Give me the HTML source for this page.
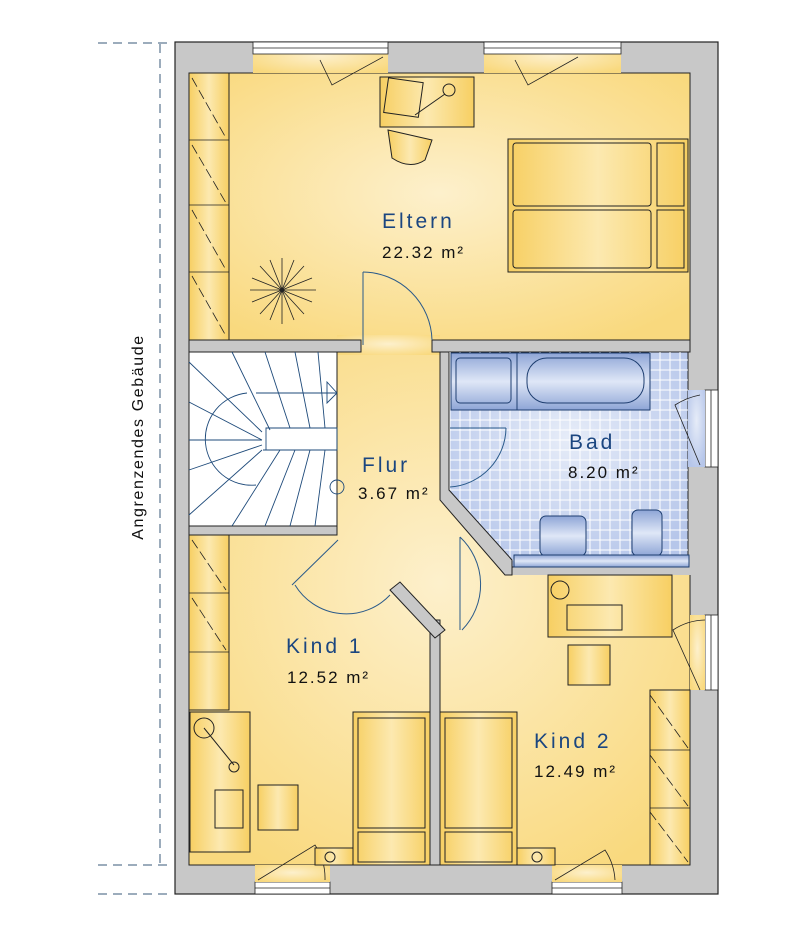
<!DOCTYPE html>
<html><head><meta charset="utf-8"><style>
html,body{margin:0;padding:0;background:#fff;width:800px;height:942px;overflow:hidden}
text{font-family:"Liberation Sans",sans-serif}
</style></head><body>
<svg width="800" height="942" viewBox="0 0 800 942" xmlns="http://www.w3.org/2000/svg">
<defs>
<radialGradient id="y" cx="50%" cy="45%" r="65%"><stop offset="0" stop-color="#fdf0cc"/><stop offset="1" stop-color="#f9d97e"/></radialGradient>
<linearGradient id="f" x1="0" y1="0" x2="1" y2="0"><stop offset="0" stop-color="#f7cf62"/><stop offset=".5" stop-color="#fce9b0"/><stop offset="1" stop-color="#f7cf62"/></linearGradient>
<radialGradient id="b" cx="50%" cy="40%" r="65%"><stop offset="0" stop-color="#e6ecf8"/><stop offset="1" stop-color="#b6c6ea"/></radialGradient>
<linearGradient id="bt" x1="0" y1="0" x2="0" y2="1"><stop offset="0" stop-color="#8ea5d6"/><stop offset=".5" stop-color="#dfe7f7"/><stop offset="1" stop-color="#8ea5d6"/></linearGradient>
<pattern id="tile" width="10" height="10" patternUnits="userSpaceOnUse"><rect width="10" height="10" fill="none" stroke="#fff" stroke-width="1"/></pattern>
</defs>
<g stroke="#3a5a7a" stroke-width="1" stroke-dasharray="9,6" fill="none">
<line x1="160" y1="44" x2="160" y2="865"/>
<line x1="98" y1="43" x2="172" y2="43"/>
<line x1="98" y1="865" x2="172" y2="865"/>
<line x1="98" y1="894" x2="172" y2="894"/>
</g>
<text x="143" y="437" font-size="16" fill="#111" text-anchor="middle" transform="rotate(-90 143 437)" letter-spacing="1.6">Angrenzendes Gebäude</text>
<rect x="175" y="42" width="543" height="852" fill="#c8c8c8" stroke="#222" stroke-width="1.2"/>
<rect x="189" y="73" width="501" height="267" fill="url(#y)" stroke="#222"/>
<rect x="253" y="42" width="135" height="31" fill="url(#y)"/>
<rect x="484" y="42" width="137" height="31" fill="url(#y)"/>
<polygon points="189,535 337,535 337,352 440,352 440,500 512,567 512,575 690,575 690,865 189,865" fill="url(#y)"/>
<rect x="337" y="335" width="103" height="20" fill="url(#y)"/>
<polyline points="189,535 189,865 690,865 690,575" fill="none" stroke="#222"/>
<rect x="189" y="340" width="172" height="12" fill="#c8c8c8" stroke="#222"/>
<rect x="432" y="340" width="258" height="12" fill="#c8c8c8" stroke="#222"/>
<rect x="189" y="352" width="148" height="174" fill="#fff" stroke="#222"/>
<polygon points="449,352 688,352 688,567 512,567 449,500" fill="url(#b)" stroke="#222"/>
<polygon points="449,352 688,352 688,567 512,567 449,500" fill="url(#tile)"/>
<polygon points="440,352 449,352 449,490 512,560 512,575 505,575 440,500" fill="#c8c8c8" stroke="#222"/>
<rect x="189" y="526" width="148" height="9" fill="#c8c8c8" stroke="#222"/>
<rect x="430" y="620" width="10" height="245" fill="#c8c8c8" stroke="#222"/>
<polygon points="390,590 400,582 445,630 435,638" fill="#c8c8c8" stroke="#222"/>
<g fill="#fff" stroke="#222" stroke-width="0.8">
<rect x="253" y="42" width="135" height="12"/><line x1="253" y1="48" x2="388" y2="48"/>
<rect x="484" y="42" width="137" height="12"/><line x1="484" y1="48" x2="621" y2="48"/>
<rect x="255" y="882" width="75" height="12"/><line x1="255" y1="888" x2="330" y2="888"/>
<rect x="552" y="882" width="70" height="12"/><line x1="552" y1="888" x2="622" y2="888"/>
<rect x="705" y="390" width="13" height="77"/><line x1="711" y1="390" x2="711" y2="467"/>
<rect x="705" y="615" width="13" height="75"/><line x1="711" y1="615" x2="711" y2="690"/>
</g>
<rect x="688" y="390" width="17" height="77" fill="url(#b)"/>
<rect x="690" y="615" width="15" height="75" fill="url(#y)"/>
<rect x="255" y="865" width="75" height="17" fill="url(#y)"/>
<rect x="552" y="865" width="70" height="17" fill="url(#y)"/>
<g stroke="#222" fill="url(#f)">
<rect x="189" y="73" width="40" height="267"/>
<rect x="189" y="535" width="40" height="175"/>
<rect x="650" y="690" width="40" height="175"/>
</g>
<g stroke="#222" stroke-width="0.8" fill="none">
<line x1="189" y1="140" x2="229" y2="140"/><line x1="189" y1="205" x2="229" y2="205"/><line x1="189" y1="272" x2="229" y2="272"/>
<line x1="189" y1="593" x2="229" y2="593"/><line x1="189" y1="652" x2="229" y2="652"/>
<line x1="650" y1="750" x2="690" y2="750"/><line x1="650" y1="808" x2="690" y2="808"/>
<path d="M192 78 L226 138 M192 145 L226 203 M192 210 L226 270 M192 276 L226 336 M192 540 L226 590 M192 598 L226 650 M650 695 L688 748 M650 755 L688 806 M650 812 L688 862" stroke-dasharray="10,4"/>
</g>
<rect x="508" y="139" width="180" height="133" fill="url(#f)" stroke="#222"/>
<g fill="none" stroke="#222"><rect x="513" y="143" width="138" height="63" rx="3"/><rect x="513" y="210" width="138" height="58" rx="3"/><rect x="657" y="143" width="27" height="63"/><rect x="657" y="210" width="27" height="58"/></g>
<rect x="380" y="77" width="94" height="50" fill="url(#f)" stroke="#222"/>
<g fill="none" stroke="#222"><rect x="386" y="80" width="35" height="35" transform="rotate(8 403 97)"/><circle cx="449" cy="90" r="6"/><line x1="445" y1="94" x2="415" y2="115"/></g>
<path d="M388 130 L432 140 L425 160 Q410 170 392 158 Z" fill="url(#f)" stroke="#222"/>
<g stroke="#222" fill="none" stroke-width="0.8"><path d="M282 258 L282 324 M250 290 L316 290 M260 266 L304 314 M304 266 L260 314 M270 260 L294 320 M294 260 L270 320 M252 278 L312 302 M312 278 L252 302"/></g>
<g stroke="#2a5a8a" fill="none" stroke-width="1">
<path d="M363 272 A70 70 0 0 1 432 340"/><line x1="363" y1="272" x2="363" y2="345"/>
<path d="M506 428 A60 60 0 0 1 450 487"/><line x1="450" y1="428" x2="506" y2="428"/>
<path d="M295 585 A60 60 0 0 0 390 595"/><line x1="338" y1="540" x2="292" y2="585"/>
<path d="M460 537 A65 65 0 0 1 462 630"/><line x1="460" y1="537" x2="460" y2="630"/>
</g>
<g stroke="#222" fill="none" stroke-width="0.8">
<path d="M320 60 L332 85 L383 57 M515 60 L528 85 L578 57 M700 395 A70 70 0 0 0 675 405 L700 465 M705 620 A60 60 0 0 0 673 630 L700 690 M325 880 A60 60 0 0 0 315 845 L258 880 M615 880 A60 60 0 0 0 605 850 L555 880"/>
</g>
<g stroke="#1e4a7a" fill="none" stroke-width="0.9">
<path d="M256 393 L337 393 M263 450 L337 450 M247 393 A40 40 0 0 0 256 485 M266 428 L337 428 L337 450 L266 450 Z M189 362 L262 432 M189 402 L262 440 M189 440 L262 440 M189 470 L262 445 M189 515 L262 450 M232 352 L270 430 M265 352 L290 428 M295 352 L310 428 M318 352 L325 428 M232 526 L280 450 M265 526 L295 450 M290 526 L310 450 M315 526 L325 450"/>
<path d="M327 382 L337 393 L327 403 Z"/>
<circle cx="337" cy="487" r="7"/>
</g>
<g stroke="#1e3e70" fill="url(#bt)">
<rect x="451" y="353" width="66" height="57"/>
<rect x="517" y="353" width="133" height="57"/>
<rect x="540" y="516" width="46" height="40" rx="6"/>
<rect x="632" y="510" width="30" height="46" rx="6"/>
<rect x="514" y="555" width="175" height="12"/>
</g>
<g stroke="#1e3e70" fill="none"><rect x="456" y="358" width="55" height="45" rx="4"/><rect x="527" y="358" width="117" height="45" rx="20"/></g>
<g stroke="#222" fill="url(#f)">
<rect x="548" y="575" width="124" height="62"/>
<rect x="190" y="712" width="60" height="140"/>
<rect x="258" y="785" width="40" height="45"/>
<rect x="568" y="645" width="42" height="40"/>
<rect x="353" y="712" width="77" height="153"/>
<rect x="440" y="712" width="77" height="153"/>
<rect x="315" y="848" width="38" height="17"/><rect x="517" y="848" width="38" height="17"/>
</g>
<g stroke="#222" fill="none">
<rect x="358" y="718" width="67" height="110"/><rect x="358" y="832" width="67" height="30"/>
<rect x="445" y="718" width="67" height="110"/><rect x="445" y="832" width="67" height="30"/>
<circle cx="204" cy="728" r="10"/><line x1="204" y1="728" x2="234" y2="765"/><circle cx="234" cy="767" r="5"/>
<rect x="215" y="790" width="28" height="38"/>
<circle cx="560" cy="590" r="9"/><rect x="567" y="605" width="55" height="25"/>
<circle cx="330" cy="857" r="5"/><circle cx="537" cy="857" r="5"/>
</g>
<g fill="#1b4680" font-size="21" letter-spacing="3">
<text x="382" y="228">Eltern</text><text x="569" y="449">Bad</text><text x="362" y="472">Flur</text>
<text x="286" y="653">Kind 1</text><text x="534" y="748">Kind 2</text>
</g>
<g fill="#111" font-size="17" letter-spacing="2">
<text x="382" y="258">22.32 m²</text><text x="568" y="478">8.20 m²</text><text x="358" y="499">3.67 m²</text>
<text x="287" y="683">12.52 m²</text><text x="534" y="777">12.49 m²</text>
</g>
</svg>
</body></html>
